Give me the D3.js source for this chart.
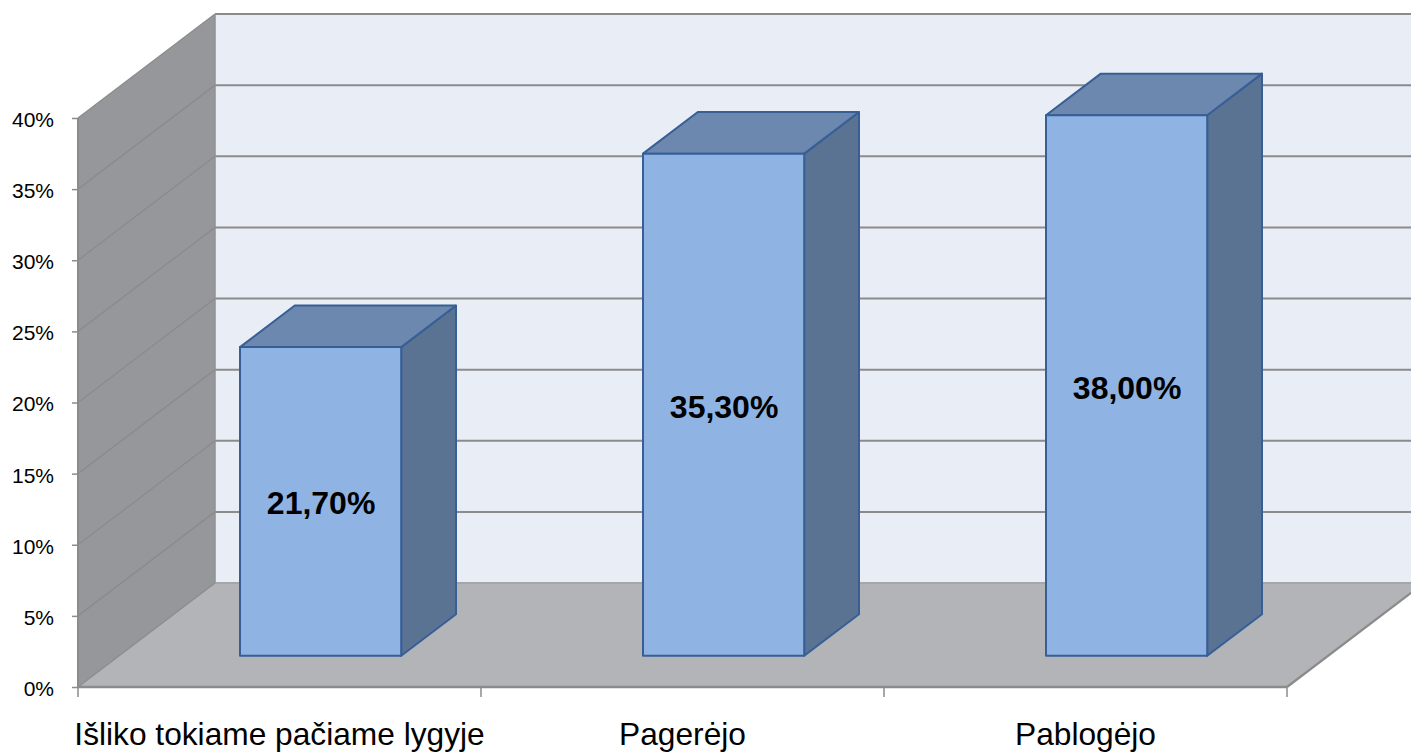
<!DOCTYPE html>
<html><head><meta charset="utf-8">
<script src="https://cdn.jsdelivr.net/npm/d3@7"></script>
<style>html,body{margin:0;padding:0;background:#fff}svg{display:block}text{font-family:"Liberation Sans",Arial,sans-serif;fill:#000}</style>
</head><body><svg id="c" width="1411" height="755"></svg>
<script>
const categories = ["Išliko tokiame pačiame lygyje","Pagerėjo","Pablogėjo"];
const values = [21.7,35.3,38.0];
const valueLabels = ["21,70%","35,30%","38,00%"];
const yTicks = [0,5,10,15,20,25,30,35,40];

const svg = d3.select("#c");
const x = d3.scaleBand().domain(categories).range([78,1287]);
const y = d3.scaleLinear().domain([0,40]).range([687,118]);
const D = {dx:137, dy:-104};              // full chart depth
const barOffset = 0.3, barWidth = 0.4;    // of band width
const depthNear = 0.3, depthFar = 0.7;    // of chart depth
const p = (px,py,z)=>[px+D.dx*z, py+D.dy*z];
const poly = pts => "M"+pts.map(q=>q.join(",")).join("L")+"Z";
const x0=x.range()[0], x1=x.range()[1], gridC="#8b8b8b";

// back wall, side wall, floor
svg.append("path").attr("d",poly([p(x0,y(40),1),p(x1,y(40),1),p(x1,y(0),1),p(x0,y(0),1)])).attr("fill","#e9edf6");
svg.append("path").attr("d",poly([p(x0,y(40),0),p(x0,y(40),1),p(x0,y(0),1),p(x0,y(0),0)])).attr("fill","#95979b");
svg.append("path").attr("d",poly([p(x0,y(0),0),p(x0,y(0),1),p(x1,y(0),1),p(x1,y(0),0)])).attr("fill","#b2b4b8");

// gridlines: side wall diagonals and back wall horizontals
yTicks.forEach(t=>{
  const a=p(x0,y(t),0), b=p(x0,y(t),1), c=p(x1,y(t),1);
  svg.append("line").attr("x1",a[0]).attr("y1",a[1]).attr("x2",b[0]).attr("y2",b[1]).attr("stroke",gridC).attr("stroke-width",1.3);
  svg.append("line").attr("x1",b[0]).attr("y1",b[1]).attr("x2",c[0]).attr("y2",c[1]).attr("stroke",t===0?"#a4a6aa":gridC).attr("stroke-width",2);
});
// side wall back edge and front edges
svg.append("line").attr("x1",p(x0,0,1)[0]).attr("x2",p(x0,0,1)[0]).attr("y1",y(40)+D.dy).attr("y2",y(0)+D.dy).attr("stroke","#8f9195").attr("stroke-width",1.5);
svg.append("line").attr("x1",x0).attr("x2",x0).attr("y1",y(40)).attr("y2",y(0)).attr("stroke",gridC).attr("stroke-width",2);
{const a=p(x1,y(0),0), b=p(x1,y(0),1);
svg.append("line").attr("x1",a[0]).attr("y1",a[1]).attr("x2",b[0]).attr("y2",b[1]).attr("stroke",gridC).attr("stroke-width",2.2);}
svg.append("line").attr("x1",x0).attr("x2",x1).attr("y1",y(0)).attr("y2",y(0)).attr("stroke",gridC).attr("stroke-width",2.6);

// bars
const bars = svg.selectAll("g.bar").data(categories.map((c,i)=>({c,v:values[i],l:valueLabels[i]}))).join("g").attr("class","bar");
bars.each(function(d){
  const g=d3.select(this), L=x(d.c)+x.bandwidth()*barOffset, W=x.bandwidth()*barWidth, R=L+W;
  const zn=depthNear, zf=depthFar;
  const nBL=p(L,y(0),zn), nBR=p(R,y(0),zn), nTL=p(L,y(d.v),zn), nTR=p(R,y(d.v),zn);
  const fBR=p(R,y(0),zf), fTL=p(L,y(d.v),zf), fTR=p(R,y(d.v),zf);
  const st=f=>g.append("path").attr("stroke","#375f96").attr("stroke-width",2).attr("stroke-linejoin","round").attr("fill",f);
  st("#5a7393").attr("d",poly([nBR,nTR,fTR,fBR]));
  st("#6c88af").attr("d",poly([nTL,nTR,fTR,fTL]));
  st("#8fb3e3").attr("d",poly([nBL,nBR,nTR,nTL]));
  g.append("text").attr("x",(nBL[0]+nBR[0])/2+0.5).attr("y",(nBL[1]+nTL[1])/2+13).attr("text-anchor","middle")
    .attr("font-size",32).attr("font-weight","bold").text(d.l);
});

// y axis
const yAxis = svg.append("g").attr("transform",`translate(${x0},0)`)
  .call(d3.axisLeft(y).tickValues(yTicks).tickSize(6).tickPadding(18).tickFormat(d=>d+"%"));
yAxis.select(".domain").remove();
yAxis.selectAll("line").attr("stroke",gridC).attr("stroke-width",1.5);
yAxis.selectAll("text").attr("font-size",21).attr("dy","0.4em").attr("font-family",'"Liberation Sans",Arial,sans-serif').attr("fill","#000");

// x axis
const xAxis = svg.append("g").attr("transform",`translate(0,${y(0)})`)
  .call(d3.axisBottom(x).tickSize(0).tickPadding(35));
xAxis.select(".domain").remove();
xAxis.selectAll("text").attr("font-size",31.7).attr("font-family",'"Liberation Sans",Arial,sans-serif').attr("fill","#000");
svg.append("g").selectAll("line").data(categories).join("line")
  .attr("x1",d=>x(d)+x.bandwidth()).attr("x2",d=>x(d)+x.bandwidth()).attr("y1",y(0)).attr("y2",y(0)+10)
  .attr("stroke",gridC).attr("stroke-width",1.5);
svg.append("line").attr("x1",x0).attr("x2",x0).attr("y1",y(0)).attr("y2",y(0)+10).attr("stroke",gridC).attr("stroke-width",1.5);
</script></body></html>
